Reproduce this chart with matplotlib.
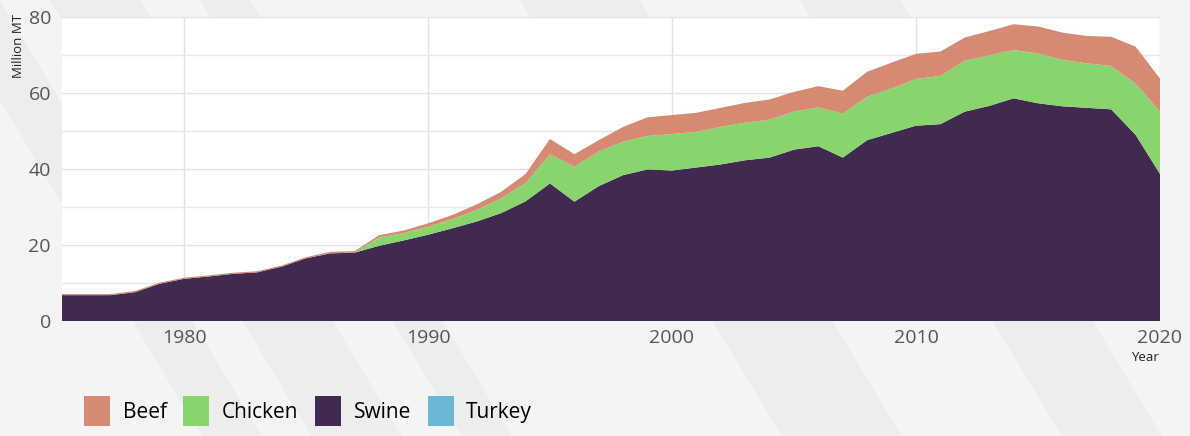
import matplotlib.pyplot as plt
from matplotlib.patches import Polygon, Patch

# Production, million metric tons
years = list(range(1975, 2021))
swine = [6.8, 6.8, 6.8, 7.6, 9.8, 11.1, 11.7, 12.4, 12.8, 14.3,
         16.5, 17.8, 18.0, 19.8, 21.2, 22.7, 24.4, 26.2, 28.4, 31.5,
         36.2, 31.4, 35.5, 38.4, 39.9, 39.6, 40.4, 41.2, 42.3, 43.0,
         45.1, 46.0, 43.0, 47.6, 49.5, 51.4, 51.8, 55.1, 56.6, 58.6,
         57.3, 56.5, 56.1, 55.7, 49.0, 38.7]
chicken = [0, 0, 0, 0, 0, 0, 0, 0, 0, 0,
           0, 0, 0, 2.2, 1.9, 2.1, 2.4, 3.0, 3.9, 4.8,
           7.7, 9.2, 9.1, 8.8, 8.8, 9.6, 9.4, 9.9, 9.9, 10.0,
           10.0, 10.2, 11.6, 11.4, 11.7, 12.3, 12.7, 13.4, 13.3, 12.7,
           13.1, 12.2, 11.7, 11.4, 13.5, 16.4]
beef = [0.3, 0.3, 0.3, 0.3, 0.3, 0.3, 0.3, 0.3, 0.3, 0.3,
        0.3, 0.4, 0.4, 0.6, 0.7, 0.9, 1.1, 1.5, 1.7, 2.4,
        4.0, 3.3, 3.0, 3.9, 4.9, 5.0, 5.0, 5.0, 5.2, 5.3,
        5.2, 5.6, 6.0, 6.6, 6.8, 6.6, 6.4, 6.1, 6.4, 6.8,
        7.1, 7.2, 7.2, 7.7, 9.7, 8.7]
turkey = [0] * 46

col_beef = '#d68a72'
col_chicken = '#8ad46e'
col_swine = '#402a50'
col_turkey = '#6ab8d6'

plt.rcParams['font.family'] = ['Open Sans', 'DejaVu Sans']

fig = plt.figure(figsize=(11.9, 4.36), dpi=100)
fig.patch.set_facecolor('#f4f4f5')

# faint diagonal stripes in the background (pixel x at top edge)
W, H = 1190, 436
stripes = [(-60, 0), (50, 140), (200, 250), (520, 640), (800, 900)]
for x0, x1 in stripes:
    pts = [(x0, H), (x1, H), (x1 + 0.6 * H, 0), (x0 + 0.6 * H, 0)]
    pts = [(px / W, py / H) for px, py in pts]
    fig.patches.append(Polygon(pts, closed=True, transform=fig.transFigure,
                               facecolor='#ededf0', edgecolor='none', zorder=-5))

ax = fig.add_axes([62 / W, 1 - 321 / H, 1098 / W, 304 / H])
ax.set_zorder(2)
ax.set_facecolor('white')
ax.stackplot(years, swine, chicken, beef, turkey,
             colors=[col_swine, col_chicken, col_beef, col_turkey],
             linewidth=0, zorder=3)

ax.set_xlim(1975, 2020)
ax.set_ylim(0, 80)
ax.set_xticks([1980, 1990, 2000, 2010, 2020])
ax.set_yticks([0, 20, 40, 60, 80])
ax.set_yticks([10, 30, 50, 70], minor=True)
ax.grid(True, which='major', color='#e2e2e6', linewidth=1, zorder=0)
ax.grid(True, which='minor', axis='y', color='#e8e8ec', linewidth=1, zorder=0)
ax.set_axisbelow(True)
for s in ax.spines.values():
    s.set_visible(False)
ax.tick_params(axis='both', which='both', length=0, labelsize=14,
               labelcolor='#555555')
ax.tick_params(axis='x', pad=6)
ax.tick_params(axis='y', pad=8)

fig.text(18 / W, 1 - 46 / H, 'Million MT', rotation=90, ha='center',
         va='center', fontsize=9.5, color='#222222')
fig.text(1145 / W, 1 - 357 / H, 'Year', ha='center', va='center',
         fontsize=9.5, color='#222222')

handles = [Patch(facecolor=col_beef, label='Beef'),
           Patch(facecolor=col_chicken, label='Chicken'),
           Patch(facecolor=col_swine, label='Swine'),
           Patch(facecolor=col_turkey, label='Turkey')]
fig.legend(handles=handles, loc='lower left', bbox_to_anchor=(0.055, -0.02),
           ncol=4, frameon=False, fontsize=15, handlelength=1.25,
           handleheight=1.8, handletextpad=0.6, columnspacing=0.8)

fig.savefig('out.png', dpi=100, facecolor=fig.get_facecolor())
